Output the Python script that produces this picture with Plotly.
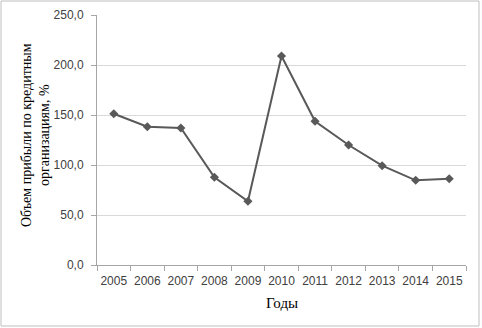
import plotly.graph_objects as go

years = ["2005", "2006", "2007", "2008", "2009", "2010", "2011", "2012", "2013", "2014", "2015"]
values = [151.3, 138.3, 137.0, 87.7, 63.7, 209.0, 143.7, 120.0, 99.3, 84.7, 86.3]
y_ticks = [0, 50, 100, 150, 200, 250]
y_tick_labels = ["0,0", "50,0", "100,0", "150,0", "200,0", "250,0"]
y_title = "Объем прибыли по кредитным<br>организациям, %"
x_title = "Годы"

fig = go.Figure()
fig.add_trace(go.Scatter(
    x=years, y=values, mode="lines+markers",
    line=dict(color="#595959", width=2),
    marker=dict(symbol="diamond", size=7, color="#595959"),
    showlegend=False,
))

fig.update_layout(
    width=482, height=328,
    margin=dict(l=97, r=16, t=15, b=63, autoexpand=False),
    paper_bgcolor="white", plot_bgcolor="white",
    font=dict(family="Liberation Sans, Arial, sans-serif", size=12, color="#404040"),
    xaxis=dict(
        type="category", showgrid=False, automargin=False,
        showline=True, linecolor="#a6a6a6", linewidth=1,
        ticks="outside", ticklen=5, tickcolor="#a6a6a6", ticklabelstandoff=5,
        tickson="boundaries", range=[-0.5, 10.5], tickangle=0,
        tickfont=dict(size=12, color="#404040"),
    ),
    yaxis=dict(
        range=[0, 250], tickvals=y_ticks, ticktext=y_tick_labels,
        showgrid=True, gridcolor="#d9d9d9", gridwidth=1, automargin=False,
        showline=True, linecolor="#a6a6a6", linewidth=1,
        ticks="outside", ticklen=5, tickcolor="#a6a6a6", ticklabelstandoff=5,
        zeroline=False, tickfont=dict(size=12, color="#404040"),
    ),
    annotations=[
        dict(text=y_title, xref="paper", yref="paper", x=0, y=0.52,
             xanchor="center", yanchor="middle", xshift=-62, textangle=-90,
             showarrow=False, align="center",
             font=dict(family="Liberation Serif, Times New Roman, serif", size=14, color="#000000")),
        dict(text=x_title, xref="paper", yref="paper", x=0.5, y=-0.152,
             xanchor="center", yanchor="middle", showarrow=False,
             font=dict(family="Liberation Serif, Times New Roman, serif", size=15, color="#000000")),
    ],
    shapes=[
        dict(type="rect", xref="paper", yref="paper",
             x0=-96/369, x1=1 + 13/369, y0=-61/250, y1=1 + 14/250,
             line=dict(color="#bfbfbf", width=1), fillcolor="rgba(0,0,0,0)"),
    ],
)

fig.write_html("out.html", config={"displayModeBar": False},
               post_script="document.body.style.margin='0';")
